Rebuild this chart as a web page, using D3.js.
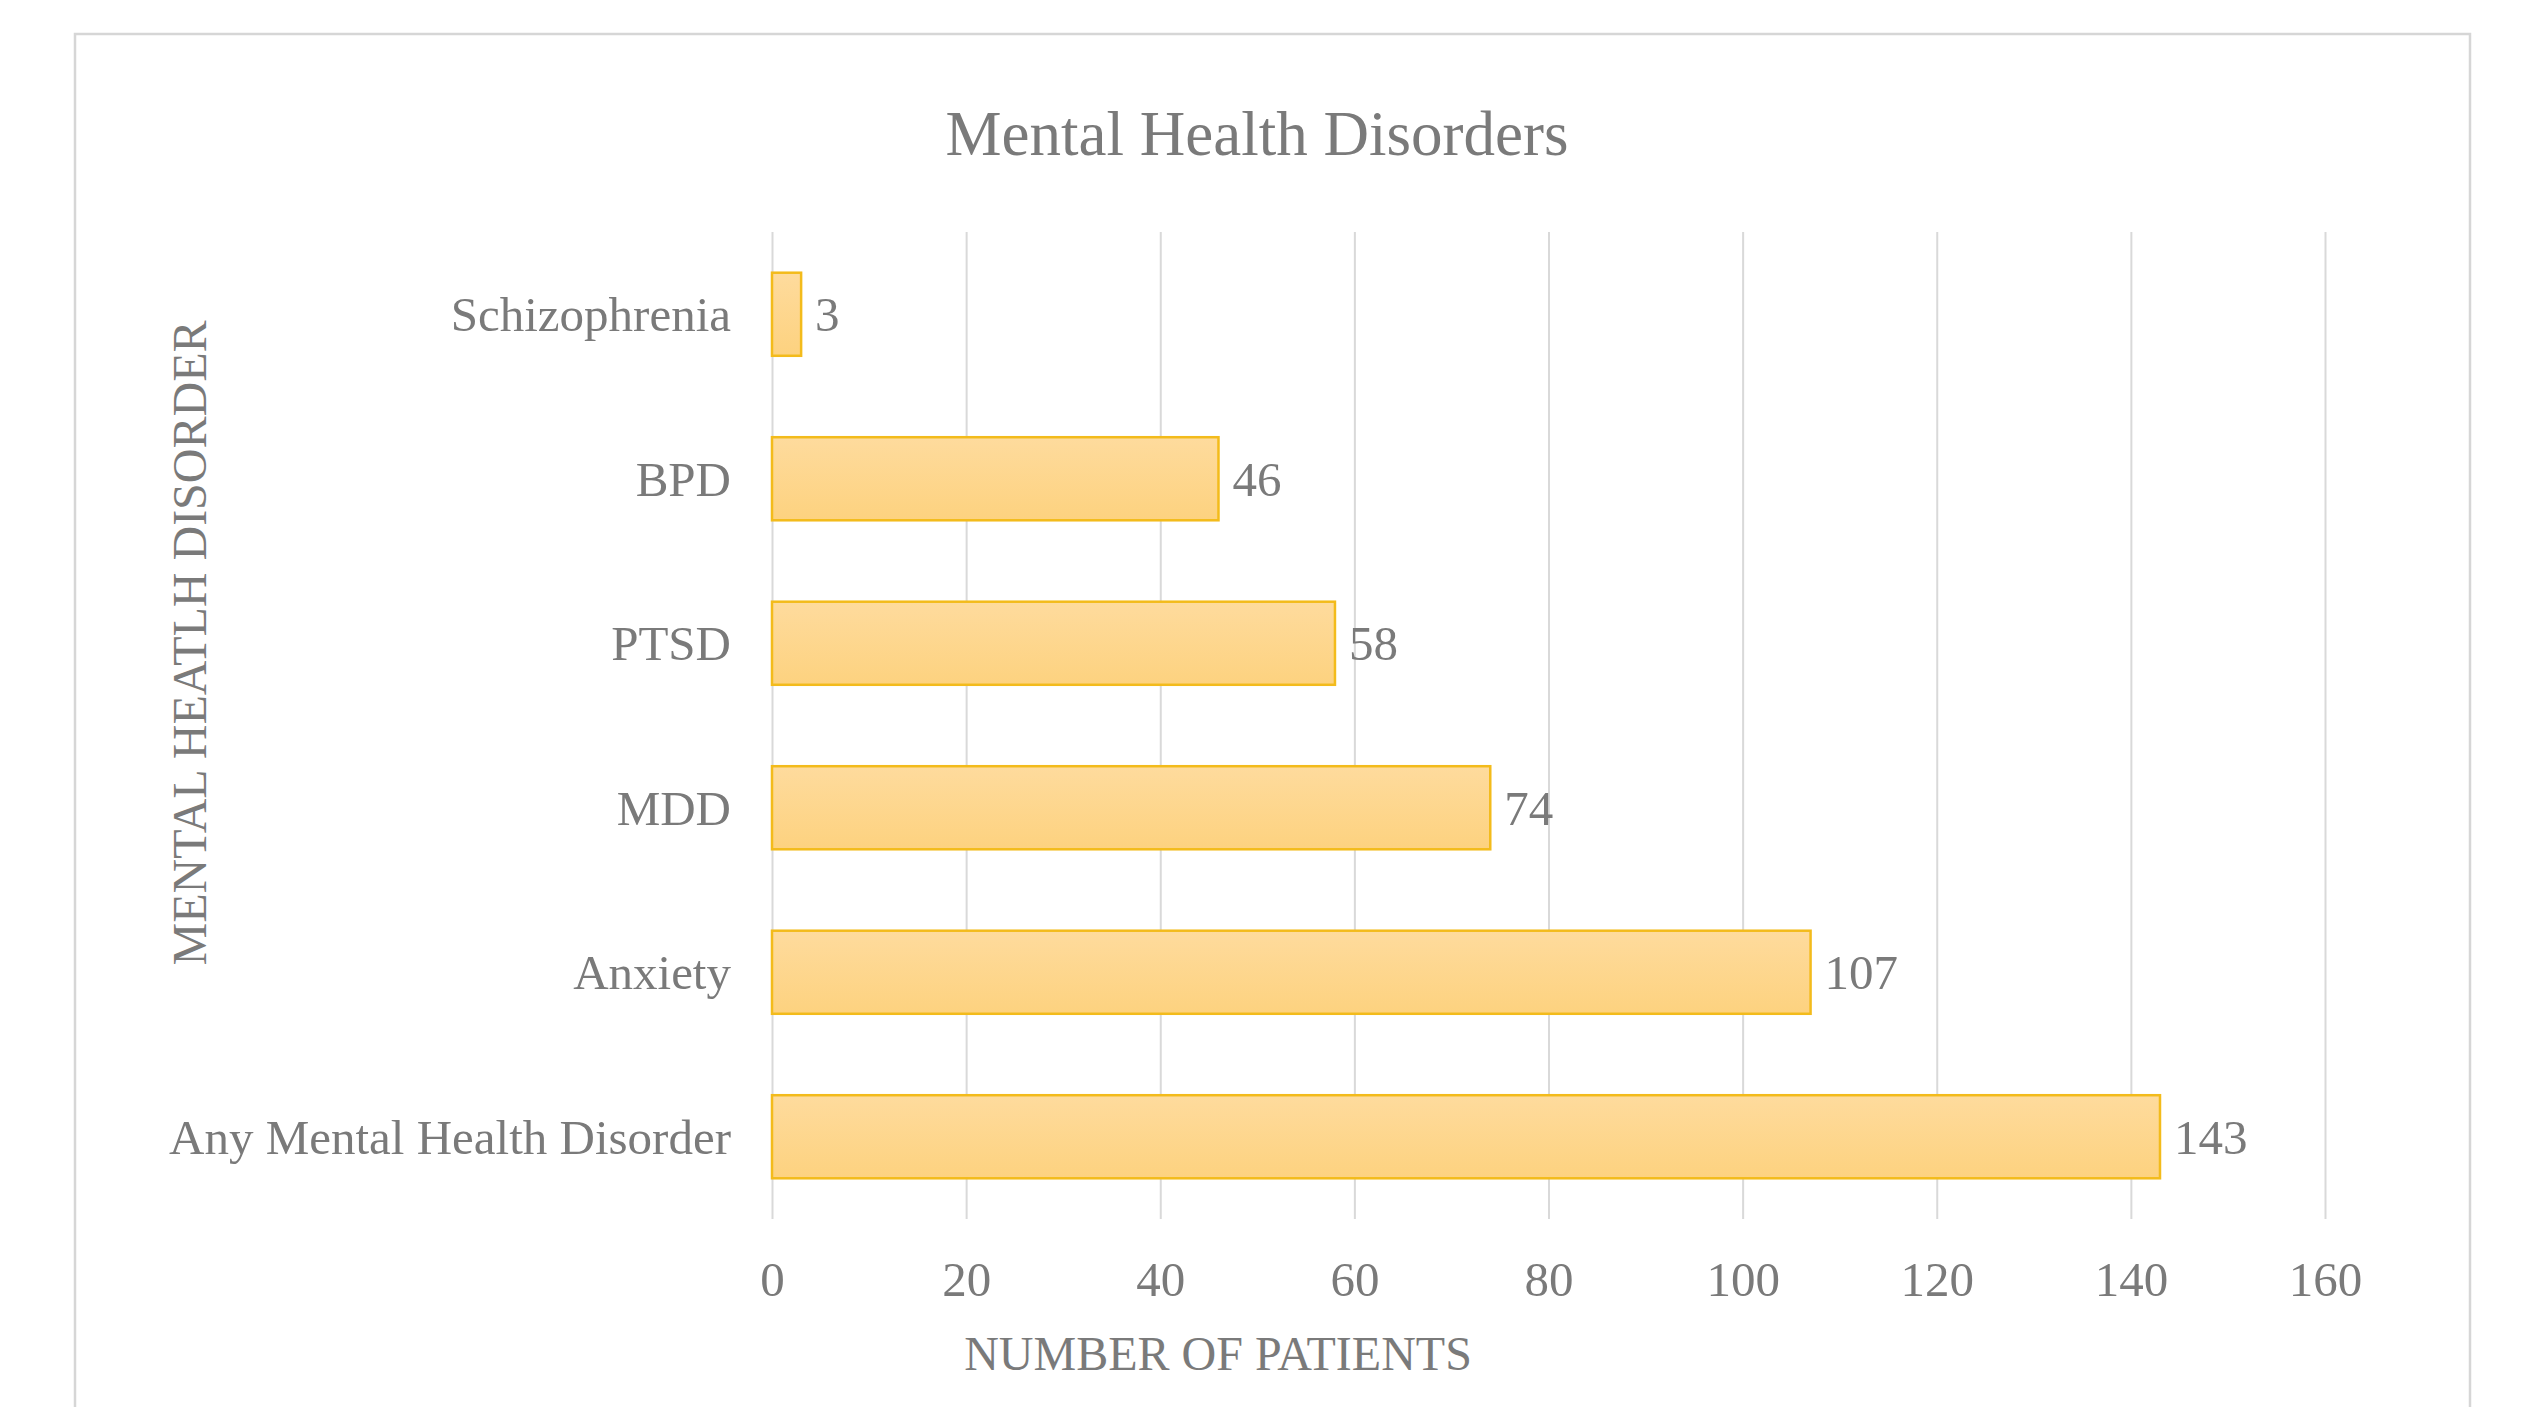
<!DOCTYPE html>
<html>
<head>
<meta charset="utf-8">
<script src="https://cdn.jsdelivr.net/npm/d3@7"></script>
<style>
  html, body { margin: 0; padding: 0; background: #fff; }
  text { font-family: "Liberation Serif", "Times New Roman", serif; fill: #7a7a7a; }
</style>
</head>
<body>
<svg id="chart" width="2537" height="1407"></svg>
<script>
// chart data
var categories = ['Schizophrenia', 'BPD', 'PTSD', 'MDD', 'Anxiety', 'Any Mental Health Disorder']
var patients = [3, 46, 58, 74, 107, 143]
var xTicks = [0, 20, 40, 60, 80, 100, 120, 140, 160]

var chartTitle = 'Mental Health Disorders'
var xTitle = 'NUMBER OF PATIENTS'
var yTitle = 'MENTAL HEATLH DISORDER'

var svg = d3.select('#chart')

// outer frame of the chart area
svg.append('rect')
  .attr('x', 75)
  .attr('y', 34)
  .attr('width', 2395)
  .attr('height', 1420)
  .attr('style', 'fill: white; stroke: #d6d6d6; stroke-width: 2.5')

var plot = { left: 772, right: 2325, top: 232, bottom: 1219 }

var x = d3.scaleLinear()
  .domain([0, 160])
  .range([plot.left, plot.right])

var y = d3.scaleBand()
  .domain(categories)
  .range([plot.top, plot.bottom])
  .paddingInner(0.495)
  .paddingOuter(0.2475)

var defs = svg.append('defs')
var grad = defs.append('linearGradient')
  .attr('id', 'barFill')
  .attr('x1', 0).attr('y1', 0).attr('x2', 0).attr('y2', 1)
grad.append('stop').attr('offset', '0%').attr('stop-color', '#fedb9d')
grad.append('stop').attr('offset', '100%').attr('stop-color', '#fdd27f')

// vertical gridlines
var xAxis = d3.axisBottom(x)
  .tickValues(xTicks)
  .tickSize(-(plot.bottom - plot.top))
  .tickPadding(50)
  .tickFormat(d3.format('d'))

var gx = svg.append('g')
  .attr('transform', 'translate(0,' + plot.bottom + ')')
  .call(xAxis)
gx.select('.domain').remove()
gx.selectAll('.tick line')
  .attr('stroke', '#d9d9d9')
  .attr('stroke-width', 2)
gx.selectAll('.tick text')
  .attr('dy', 0)
  .attr('y', 77)
  .style('font-size', '49px')
  .style('fill', '#7a7a7a')

// category axis labels
var yAxis = d3.axisLeft(y).tickSize(0).tickPadding(41)
var gy = svg.append('g')
  .attr('transform', 'translate(' + plot.left + ',0)')
  .call(yAxis)
gy.select('.domain').remove()
gy.selectAll('.tick text')
  .attr('dy', '0.35em')
  .style('font-size', '49px')
  .style('fill', '#7a7a7a')

// bars
svg.append('g')
  .selectAll('rect')
  .data(categories)
  .join('rect')
  .attr('x', x(0))
  .attr('y', function (d) { return y(d) })
  .attr('width', function (d, i) { return x(patients[i]) - x(0) })
  .attr('height', y.bandwidth())
  .attr('fill', 'url(#barFill)')
  .attr('stroke', '#f3bb1b')
  .attr('stroke-width', 2.5)

// value labels
svg.append('g')
  .selectAll('text')
  .data(categories)
  .join('text')
  .attr('x', function (d, i) { return x(patients[i]) + 14 })
  .attr('y', function (d) { return y(d) + y.bandwidth() / 2 })
  .attr('dy', '0.35em')
  .style('font-size', '49px')
  .text(function (d, i) { return patients[i] })

// titles
svg.append('text')
  .attr('x', 1257)
  .attr('y', 155)
  .attr('text-anchor', 'middle')
  .style('font-size', '63px')
  .text(chartTitle)

svg.append('text')
  .attr('x', 1218)
  .attr('y', 1370)
  .attr('text-anchor', 'middle')
  .style('font-size', '48px')
  .text(xTitle)

svg.append('text')
  .attr('transform', 'translate(206,643) rotate(-90)')
  .attr('text-anchor', 'middle')
  .style('font-size', '48px')
  .text(yTitle)
</script>
</body>
</html>
